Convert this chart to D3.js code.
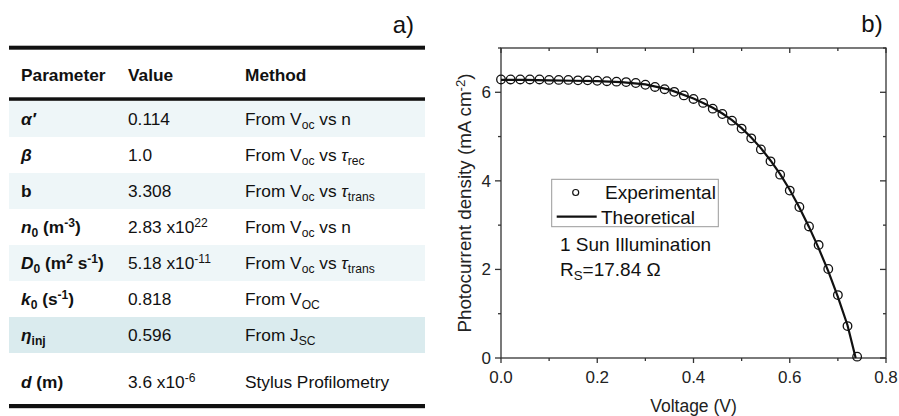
<!DOCTYPE html>
<html>
<head>
<meta charset="utf-8">
<script src="https://d3js.org/d3.v7.min.js"></script>
<style>
  body { margin: 0; background: #fff; }
  svg { display: block; font-family: Arial, "Liberation Sans", sans-serif; }
</style>
</head>
<body>
<div id="chart"></div>
<script>
// ---- table data (simple markup: *italic*, _sub_, ^sup^) ----
const headers = ["Parameter", "Value", "Method"];
const parameters = ["*α′*", "*β*", "b", "*n*_0_ (m^-3^)", "*D*_0_ (m^2^ s^-1^)", "*k*_0_ (s^-1^)", "*η*_inj_", "*d* (m)"];
const values = ["0.114", "1.0", "3.308", "2.83 x10^22^", "5.18 x10^-11^", "0.818", "0.596", "3.6 x10^-6^"];
const methods = ["From V_oc_ vs n", "From V_oc_ vs *τ*_rec_", "From V_oc_ vs *τ*_trans_", "From V_oc_ vs n",
  "From V_oc_ vs *τ*_trans_", "From V_OC_", "From J_SC_", "Stylus Profilometry"];

// ---- J-V data ----
const expVoltage = [0, 0.02, 0.04, 0.06, 0.08, 0.10, 0.12, 0.14, 0.16, 0.18, 0.20, 0.22, 0.24, 0.26, 0.28,
  0.30, 0.32, 0.34, 0.36, 0.38, 0.40, 0.42, 0.44, 0.46, 0.48, 0.50, 0.52, 0.54, 0.56, 0.58, 0.60,
  0.62, 0.64, 0.66, 0.68, 0.70, 0.72, 0.74];
const expCurrent = [6.29, 6.29, 6.29, 6.29, 6.29, 6.28, 6.28, 6.28, 6.27, 6.27, 6.26, 6.25, 6.24, 6.23, 6.21,
  6.17, 6.12, 6.07, 6.01, 5.93, 5.85, 5.76, 5.63, 5.51, 5.36, 5.18, 4.96, 4.71, 4.44, 4.14, 3.78,
  3.41, 2.97, 2.55, 2.01, 1.42, 0.72, 0.03];
const theoVoltage = [0, 0.05, 0.10, 0.15, 0.20, 0.25, 0.30, 0.35, 0.40, 0.42, 0.44, 0.46, 0.48, 0.50, 0.52,
  0.54, 0.56, 0.58, 0.60, 0.62, 0.64, 0.66, 0.68, 0.70, 0.72, 0.737];
const theoCurrent = [6.28, 6.28, 6.27, 6.26, 6.25, 6.23, 6.18, 6.06, 5.86, 5.76, 5.65, 5.52, 5.37, 5.19, 4.98,
  4.74, 4.46, 4.15, 3.80, 3.40, 2.96, 2.48, 1.96, 1.38, 0.74, 0];
const seriesNames = ["Experimental", "Theoretical"];
const xTicks = [0, 0.2, 0.4, 0.6, 0.8];
const yTicks = [0, 2, 4, 6];

const W = 899, H = 416;
const svg = d3.select("#chart").append("svg").attr("width", W).attr("height", H);

// render a markup string into a <text> element
function rich(textSel, str, baseSize, bold) {
  const parts = str.split(/(\*[^*]+\*|_[^_]+_|\^[^^]+\^)/).filter(s => s.length);
  let shift = 0;
  parts.forEach(p => {
    let kind = "n", t = p;
    if (p[0] === "*") { kind = "i"; t = p.slice(1, -1); }
    else if (p[0] === "_") { kind = "sub"; t = p.slice(1, -1); }
    else if (p[0] === "^") { kind = "sup"; t = p.slice(1, -1); }
    const target = kind === "sub" ? 4 : kind === "sup" ? -6 : 0;
    const ts = textSel.append("tspan").text(t)
      .attr("dy", target - shift)
      .attr("font-weight", bold ? "bold" : "normal");
    shift = target;
    if (kind === "i") ts.attr("font-style", "italic");
    if (kind === "sub" || kind === "sup") ts.attr("font-size", baseSize * 0.7);
  });
}

// ---------------- table (a) ----------------
const table = svg.append("g");
const colX = [21, 128, 245];
const rowTop = 101, rowH = 36;
const fs = 17.3;

parameters.forEach((p, i) => {
  const y0 = rowTop + i * rowH;
  const h = i === parameters.length - 1 ? 50 : rowH;
  let fill = null;
  if (i === 6) fill = "#daebee";
  else if (i % 2 === 0 && i < 6) fill = "#eef6f8";
  if (fill) table.append("rect").attr("x", 9).attr("y", y0).attr("width", 416).attr("height", h).attr("fill", fill);
});

table.append("rect").attr("x", 9).attr("y", 45.7).attr("width", 416).attr("height", 4).attr("fill", "#111");
table.append("rect").attr("x", 9).attr("y", 97.3).attr("width", 416).attr("height", 3.5).attr("fill", "#111");
table.append("rect").attr("x", 9).attr("y", 404).attr("width", 416).attr("height", 4.2).attr("fill", "#111");

headers.forEach((h, j) => {
  table.append("text").attr("x", colX[j]).attr("y", 81).attr("font-size", fs)
    .attr("font-weight", "bold").attr("fill", "#111").text(h);
});

parameters.forEach((p, i) => {
  const cy = i === parameters.length - 1 ? 381.7 : rowTop + i * rowH + 18;
  const base = cy + 6;
  [[p, true], [values[i], false], [methods[i], false]].forEach(([s, b], j) => {
    const t = table.append("text").attr("x", colX[j]).attr("y", base)
      .attr("font-size", fs).attr("fill", "#111");
    rich(t, s, fs, b);
  });
});

svg.append("text").attr("x", 414).attr("y", 33).attr("text-anchor", "end")
  .attr("font-size", 24).attr("fill", "#111").text("a)");

// ---------------- plot (b) ----------------
const x = d3.scaleLinear().domain([0, 0.8]).range([501, 886]);
const y = d3.scaleLinear().domain([0, 7]).range([358, 48]);
const axisColor = "#333";

const plot = svg.append("g");

// frame
plot.append("rect").attr("x", x(0)).attr("y", y(7)).attr("width", x(0.8) - x(0)).attr("height", y(0) - y(7))
  .attr("fill", "none").attr("stroke", axisColor).attr("stroke-width", 1.3);

// ticks
const xMinor = [0.1, 0.3, 0.5, 0.7];
const yMinor = [1, 3, 5, 7];
const tk = plot.append("g").attr("stroke", axisColor).attr("stroke-width", 1.3);
xTicks.forEach(v => {
  tk.append("line").attr("x1", x(v)).attr("x2", x(v)).attr("y1", y(0)).attr("y2", y(0) + 5);
  tk.append("line").attr("x1", x(v)).attr("x2", x(v)).attr("y1", y(7)).attr("y2", y(7) + 5);
});
xMinor.forEach(v => {
  tk.append("line").attr("x1", x(v)).attr("x2", x(v)).attr("y1", y(0)).attr("y2", y(0) + 3);
  tk.append("line").attr("x1", x(v)).attr("x2", x(v)).attr("y1", y(7)).attr("y2", y(7) + 3);
});
yTicks.forEach(v => {
  tk.append("line").attr("x1", x(0) - 6).attr("x2", x(0)).attr("y1", y(v)).attr("y2", y(v));
  tk.append("line").attr("x1", x(0.8) - 6).attr("x2", x(0.8)).attr("y1", y(v)).attr("y2", y(v));
});
yMinor.forEach(v => {
  tk.append("line").attr("x1", x(0) - 3).attr("x2", x(0)).attr("y1", y(v)).attr("y2", y(v));
  tk.append("line").attr("x1", x(0.8) - 3).attr("x2", x(0.8)).attr("y1", y(v)).attr("y2", y(v));
});

// tick labels
xTicks.forEach(v => {
  plot.append("text").attr("x", x(v)).attr("y", y(0) + 24.5).attr("text-anchor", "middle")
    .attr("font-size", 17).attr("fill", "#222").text(d3.format(".1f")(v));
});
yTicks.forEach(v => {
  plot.append("text").attr("x", x(0) - 10).attr("y", y(v) + 6).attr("text-anchor", "end")
    .attr("font-size", 17).attr("fill", "#222").text(v);
});

// axis titles
plot.append("text").attr("x", (x(0) + x(0.8)) / 2).attr("y", 412).attr("text-anchor", "middle")
  .attr("font-size", 17.5).attr("fill", "#222").text("Voltage (V)");
const yl = plot.append("text").attr("transform", `translate(470.5,${(y(0) + y(7)) / 2}) rotate(-90)`)
  .attr("text-anchor", "middle").attr("font-size", 18.8).attr("fill", "#222");
rich(yl, "Photocurrent density (mA cm^-2^)", 18.8, false);

// theoretical line
const line = d3.line().x(d => x(d[0])).y(d => y(d[1]));
plot.append("path").datum(theoVoltage.map((v, i) => [v, theoCurrent[i]]))
  .attr("d", line).attr("fill", "none").attr("stroke", "#111").attr("stroke-width", 2.2);

// experimental points
plot.selectAll("circle.exp").data(expVoltage.map((v, i) => [v, expCurrent[i]])).join("circle")
  .attr("class", "exp").attr("cx", d => x(d[0])).attr("cy", d => y(d[1])).attr("r", 4.3)
  .attr("fill", "none").attr("stroke", "#111").attr("stroke-width", 1.3);

// legend
const lg = plot.append("g");
lg.append("rect").attr("x", 551.7).attr("y", 179.3).attr("width", 166.6).attr("height", 47.4)
  .attr("fill", "#fff").attr("stroke", "#999").attr("stroke-width", 1);
lg.append("circle").attr("cx", 575.7).attr("cy", 192.5).attr("r", 3)
  .attr("fill", "none").attr("stroke", "#111").attr("stroke-width", 1.2);
lg.append("text").attr("x", 605).attr("y", 198.5).attr("font-size", 19).attr("fill", "#111").text(seriesNames[0]);
lg.append("line").attr("x1", 556.7).attr("x2", 596.7).attr("y1", 216.7).attr("y2", 216.7)
  .attr("stroke", "#111").attr("stroke-width", 2.2);
lg.append("text").attr("x", 601).attr("y", 223.5).attr("font-size", 19).attr("fill", "#111").text(seriesNames[1]);

plot.append("text").attr("x", 560).attr("y", 251).attr("font-size", 19).attr("fill", "#111").text("1 Sun Illumination");
const rs = plot.append("text").attr("x", 560).attr("y", 276).attr("font-size", 19).attr("fill", "#111");
rich(rs, "R_S_=17.84 Ω", 19, false);

svg.append("text").attr("x", 882.7).attr("y", 32).attr("text-anchor", "end")
  .attr("font-size", 24).attr("fill", "#111").text("b)");
</script>
</body>
</html>
